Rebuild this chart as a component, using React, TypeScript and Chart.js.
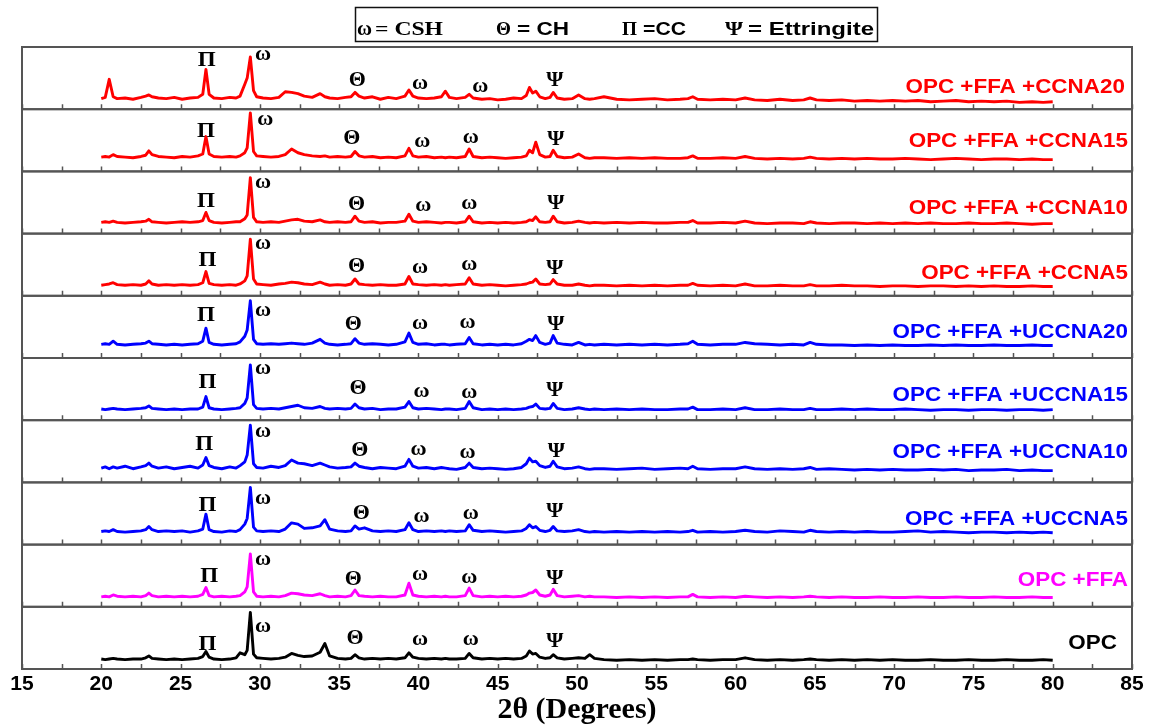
import React, { useEffect, useRef } from "react";
import { Chart, registerables } from "chart.js";

Chart.register(...registerables);

const twoTheta = [
  20.0, 20.25, 20.5, 20.75, 21.0, 21.5, 22.0, 22.5, 22.8, 23.0,
  23.2, 23.6, 24.1, 24.6, 25.1, 25.6, 26.1, 26.4, 26.6, 26.8,
  27.1, 27.6, 28.1, 28.5, 28.75, 29.05, 29.2, 29.4, 29.6, 29.8,
  30.2, 30.7, 31.2, 31.6, 32.0, 32.4, 32.8, 33.3, 33.8, 34.1,
  34.4, 34.9, 35.4, 35.75, 36.0, 36.25, 36.6, 37.1, 37.6, 38.1,
  38.6, 39.15, 39.4, 39.65, 40.0, 40.5, 41.0, 41.45, 41.7, 41.95,
  42.4, 42.95, 43.2, 43.45, 44.0, 44.5, 45.0, 45.5, 46.0, 46.5,
  46.8, 47.0, 47.2, 47.4, 47.65, 48.0, 48.3, 48.5, 48.75, 49.2,
  49.7, 50.1, 50.5, 50.8, 51.1,
  51.7, 52.5, 53.3, 54.1, 54.9, 55.7, 56.5, 57.0, 57.3, 57.6,
  58.4, 59.2, 60.0, 60.6, 61.2, 62.0, 62.8, 63.6, 64.3, 64.7,
  65.1, 65.9, 66.7, 67.5, 68.3, 69.1, 69.9, 70.7, 71.5, 72.3,
  73.1, 73.9, 74.7, 75.5, 76.3, 77.1, 77.9, 78.7, 79.4, 80.0,
];

// Relative intensities (0–100 within each stacked panel)
const ccna20 = [
  17, 19, 48, 20, 17, 18, 16, 19, 21, 23,
  20, 18, 17, 19, 16, 18, 19, 24, 64, 24,
  18, 17, 19, 18, 21, 40, 50, 84, 30, 20,
  18, 17, 19, 28, 27, 25, 21, 19, 25, 20,
  18, 17, 19, 20, 27, 21, 18, 20, 16, 19,
  17, 21, 31, 21, 18, 17, 18, 20, 29, 19,
  17, 19, 24, 18, 16, 17, 15, 16, 18, 17,
  22, 35, 26, 29, 20, 17, 19, 27, 18, 16,
  17, 23, 17, 16, 17,
  20, 16, 15, 16, 17, 15, 16, 17, 20, 16,
  15, 16, 15, 18, 15, 14, 16, 14, 15, 18,
  15, 14, 15, 13, 14, 13, 14, 13, 14, 12,
  13, 14, 12, 13, 12, 13, 11, 12, 11, 12,
];
const ccna15 = [
  23, 24, 23, 27, 24, 23, 22, 24, 26, 33,
  27, 24, 23, 22, 24, 23, 25, 28, 56, 28,
  24, 23, 24, 23, 25, 30, 38, 94, 32, 25,
  24, 23, 24, 27, 36, 30, 27, 25, 24, 25,
  23, 24, 23, 24, 32, 25, 23, 24, 22, 23,
  22, 25, 37, 25, 23, 24, 22, 23, 22, 23,
  22, 24, 36, 24, 22, 23, 22, 21, 22, 23,
  25, 34, 30, 47, 27, 23, 24, 34, 24, 22,
  23, 28, 22, 21, 22,
  22, 21, 22, 21, 22, 21, 21, 22, 25, 21,
  21, 22, 21, 24, 21, 20, 21, 20, 21, 23,
  21, 20, 21, 20, 21, 20, 20, 21, 20, 19,
  20, 21, 20, 19, 20, 20, 19, 20, 19, 19,
];
const ccna10 = [
  18, 19, 18, 20, 18, 17, 18, 19, 20, 23,
  19, 18, 17, 18, 19, 18, 19, 21, 34, 21,
  18, 17, 18, 19, 19, 24, 30, 90, 26, 19,
  18, 19, 18, 20, 22, 23, 20, 19, 22, 19,
  18, 19, 18, 19, 28, 20, 18, 19, 17, 18,
  18, 20, 31, 20, 18, 19, 18, 17, 18, 18,
  17, 19, 28, 19, 17, 18, 17, 18, 17, 18,
  19, 22, 21, 27, 19, 18, 19, 28, 19, 17,
  18, 20, 18, 17, 18,
  17, 18, 17, 18, 17, 17, 18, 18, 21, 17,
  17, 18, 17, 20, 17, 16, 17, 17, 16, 19,
  17, 16, 17, 17, 16, 17, 16, 17, 16, 17,
  16, 16, 17, 16, 16, 17, 16, 15, 16, 16,
];
const ccna5 = [
  17, 18, 19, 21, 18, 17, 18, 17, 19, 24,
  19, 17, 18, 17, 18, 17, 18, 21, 39, 20,
  18, 17, 18, 17, 19, 24, 32, 91, 27, 19,
  18, 17, 19, 20, 22, 21, 19, 18, 22, 19,
  17, 18, 17, 19, 27, 19, 18, 17, 18, 17,
  17, 19, 31, 19, 18, 17, 18, 17, 18, 17,
  18, 19, 29, 19, 17, 18, 17, 16, 17, 18,
  19, 21, 22, 27, 19, 18, 19, 26, 19, 17,
  17, 19, 17, 16, 17,
  17, 16, 17, 16, 17, 16, 17, 17, 20, 17,
  16, 17, 16, 19, 16, 16, 17, 16, 16, 18,
  16, 16, 17, 16, 16, 15, 16, 16, 15, 16,
  16, 15, 16, 15, 16, 15, 15, 16, 15, 15,
];
const uccna20 = [
  22, 23, 22, 27, 22, 21, 22, 23, 24, 27,
  23, 22, 21, 22, 21, 22, 23, 27, 48, 25,
  22, 21, 22, 23, 26, 35, 45, 92, 30, 23,
  22, 23, 22, 23, 24, 23, 22, 24, 30, 24,
  22, 21, 22, 23, 31, 24, 22, 23, 22, 21,
  22, 26, 40, 25, 22, 23, 21, 22, 22, 21,
  22, 23, 33, 23, 21, 22, 21, 22, 21, 23,
  27, 30, 28, 36, 25, 22, 24, 36, 24, 22,
  21, 25, 21, 22, 21,
  22, 21, 22, 21, 22, 21, 22, 23, 27, 22,
  21, 22, 22, 25, 23, 22, 21, 22, 21, 25,
  22, 21, 21, 20, 21, 20, 21, 20, 20, 21,
  20, 21, 20, 20, 21, 20, 20, 21, 20, 20,
];
const uccna15 = [
  18, 17, 18, 19, 18, 17, 18, 19, 20, 23,
  19, 18, 17, 18, 17, 18, 18, 21, 38, 20,
  18, 17, 18, 19, 20, 27, 36, 89, 25, 19,
  18, 19, 18, 20, 22, 24, 20, 19, 22, 19,
  18, 19, 18, 19, 26, 20, 18, 19, 17, 18,
  18, 21, 30, 20, 18, 19, 18, 17, 18, 18,
  17, 19, 30, 20, 17, 18, 17, 18, 17, 18,
  19, 21, 22, 26, 19, 18, 19, 27, 19, 17,
  18, 20, 18, 17, 18,
  17, 18, 17, 18, 17, 17, 18, 18, 21, 17,
  17, 18, 17, 20, 17, 17, 18, 17, 17, 19,
  17, 17, 18, 17, 18, 17, 17, 18, 17, 16,
  17, 17, 16, 17, 17, 16, 17, 17, 16, 17,
];
const uccna10 = [
  23, 25, 22, 25, 23, 26, 22, 25, 27, 31,
  26, 23, 25, 22, 24, 26, 23, 28, 40, 27,
  24, 22, 25, 23, 27, 33, 44, 92, 30, 24,
  23, 26, 24, 27, 36, 31, 30, 27, 31, 28,
  25, 23, 24, 25, 31, 26, 24, 22, 24, 23,
  22, 26, 37, 26, 23, 24, 22, 24, 23, 22,
  21, 24, 31, 24, 22, 23, 22, 21, 22, 24,
  30, 39, 33, 34, 27, 24, 26, 34, 25, 22,
  23, 25, 22, 21, 22,
  22, 21, 22, 23, 21, 22, 23, 22, 26, 22,
  21, 22, 22, 25, 22, 21, 22, 21, 22, 24,
  21, 22, 21, 20, 21, 20, 21, 20, 20, 21,
  20, 21, 19, 20, 20, 21, 19, 20, 19, 19,
];
const uccna5 = [
  21, 22, 21, 24, 21, 20, 21, 22, 24, 29,
  24, 21, 22, 21, 22, 20, 22, 25, 49, 24,
  21, 20, 22, 21, 24, 33, 42, 92, 28, 22,
  21, 22, 21, 25, 35, 33, 26, 27, 30, 40,
  25, 22, 21, 22, 30, 25, 27, 22, 21, 22,
  21, 24, 35, 24, 21, 22, 21, 22, 21, 22,
  21, 22, 32, 23, 21, 22, 21, 20, 21, 22,
  26, 32, 27, 29, 23, 21, 23, 29, 22, 21,
  22, 24, 21, 20, 21,
  20, 21, 20, 21, 20, 21, 20, 21, 23, 20,
  21, 20, 21, 23, 21, 20, 22, 21, 20, 23,
  21, 20, 21, 20, 21, 20, 20, 21, 22, 20,
  21, 20, 19, 20, 20, 19, 20, 19, 20, 19,
];
const opcFfa = [
  16, 17, 16, 19, 17, 16, 17, 16, 18, 22,
  18, 16, 17, 16, 17, 16, 17, 20, 31, 18,
  16, 17, 16, 17, 18, 24, 32, 85, 24, 17,
  16, 17, 16, 18, 22, 21, 19, 18, 21, 18,
  16, 17, 16, 18, 27, 18, 17, 16, 17, 16,
  16, 19, 38, 19, 17, 16, 17, 16, 17, 16,
  16, 18, 30, 18, 16, 17, 16, 17, 16, 17,
  19, 22, 23, 27, 19, 17, 19, 28, 18, 16,
  17, 18, 16, 17, 16,
  16, 15, 16, 15, 16, 15, 16, 16, 20, 16,
  15, 16, 15, 17, 16, 15, 16, 15, 16, 17,
  16, 15, 16, 15, 15, 16, 15, 15, 16, 15,
  15, 16, 15, 15, 16, 15, 15, 16, 15, 15,
];
const opc = [
  16, 15, 16, 17, 16, 15, 16, 16, 18, 21,
  17, 16, 15, 16, 15, 16, 17, 20, 28, 19,
  16, 15, 16, 18, 26, 23, 30, 91, 24, 18,
  17, 16, 17, 19, 25, 22, 20, 21, 27, 41,
  21, 17, 16, 17, 23, 18, 16, 17, 16, 17,
  16, 18, 26, 19, 17, 16, 17, 16, 17, 16,
  16, 17, 25, 18, 16, 17, 16, 17, 16, 17,
  21, 29, 24, 25, 19, 17, 18, 23, 18, 16,
  17, 18, 17, 23, 17,
  15, 14, 15, 14, 15, 14, 15, 15, 16, 15,
  14, 15, 15, 18, 15, 14, 15, 14, 15, 16,
  15, 14, 15, 14, 15, 14, 15, 14, 14, 15,
  14, 14, 15, 14, 14, 15, 14, 14, 15, 14,
];

const sampleNames = [
  "OPC +FFA +CCNA20", "OPC +FFA +CCNA15", "OPC +FFA +CCNA10", "OPC +FFA +CCNA5",
  "OPC +FFA +UCCNA20", "OPC +FFA +UCCNA15", "OPC +FFA +UCCNA10", "OPC +FFA +UCCNA5",
  "OPC +FFA", "OPC",
];
const sampleSeries = [ccna20, ccna15, ccna10, ccna5, uccna20, uccna15, uccna10, uccna5, opcFfa, opc];
const sampleColors = [
  "#ff0000", "#ff0000", "#ff0000", "#ff0000",
  "#0000ff", "#0000ff", "#0000ff", "#0000ff",
  "#ff00ff", "#000000",
];

const xTickValues = [15, 20, 25, 30, 35, 40, 45, 50, 55, 60, 65, 70, 75, 80, 85];
const minorTickValues = [
  15, 17.5, 20, 22.5, 25, 27.5, 30, 32.5, 35, 37.5, 40, 42.5, 45, 47.5, 50,
  52.5, 55, 57.5, 60, 62.5, 65, 67.5, 70, 72.5, 75, 77.5, 80, 82.5, 85,
];

// Phase marks per panel: [symbol, 2θ, height in panel units]
const peakMarks: [string, number, number][][] = [
  [["Π", 26.65, 80], ["ω", 30.2, 87], ["Θ", 36.15, 49], ["ω", 40.1, 40], ["ω", 43.9, 36], ["Ψ", 48.6, 48]],
  [["Π", 26.6, 67], ["ω", 30.35, 83], ["Θ", 35.8, 55], ["ω", 40.25, 47], ["ω", 43.3, 54], ["Ψ", 48.67, 54]],
  [["Π", 26.6, 54], ["ω", 30.2, 82], ["Θ", 36.1, 49], ["ω", 40.3, 45], ["ω", 43.2, 47], ["Ψ", 48.67, 51]],
  [["Π", 26.7, 59], ["ω", 30.2, 83], ["Θ", 36.1, 50], ["ω", 40.1, 45], ["ω", 43.2, 49], ["Ψ", 48.6, 47]],
  [["Π", 26.6, 70], ["ω", 30.2, 75], ["Θ", 35.9, 56], ["ω", 40.1, 54], ["ω", 43.1, 56], ["Ψ", 48.67, 56]],
  [["Π", 26.7, 63], ["ω", 30.2, 82], ["Θ", 36.2, 54], ["ω", 40.2, 46], ["ω", 43.2, 43], ["Ψ", 48.6, 50]],
  [["Π", 26.5, 63], ["ω", 30.2, 81], ["Θ", 36.3, 54], ["ω", 40.0, 52], ["ω", 43.1, 48], ["Ψ", 48.7, 52]],
  [["Π", 26.7, 66], ["ω", 30.2, 74], ["Θ", 36.4, 53], ["ω", 40.2, 45], ["ω", 43.3, 50], ["Ψ", 48.6, 55]],
  [["Π", 26.8, 51], ["ω", 30.2, 75], ["Θ", 35.9, 47], ["ω", 40.1, 51], ["ω", 43.2, 47], ["Ψ", 48.6, 48]],
  [["Π", 26.7, 41], ["ω", 30.2, 68], ["Θ", 36.0, 52], ["ω", 40.1, 47], ["ω", 43.3, 47], ["Ψ", 48.6, 46]],
];

// layout of the sample labels (right edge in 2θ units, centre in panel units)
const labelRightX = [84.55, 84.75, 84.75, 84.75, 84.75, 84.75, 84.75, 84.75, 84.75, 84.05];
const labelCenterY = [37, 51, 42, 39, 43, 42, 51, 43, 45, 43];

const SANS = '"Liberation Sans", Arial, Helvetica, sans-serif';
const SERIF = '"Liberation Serif", "Times New Roman", Times, serif';
const FRAME = "#555555";

function drawCentered(ctx: CanvasRenderingContext2D, text: string, x: number, yc: number, sx: number, align: CanvasTextAlign) {
  const m = ctx.measureText(text);
  const a = m.actualBoundingBoxAscent;
  const d = m.actualBoundingBoxDescent;
  ctx.save();
  ctx.translate(x, yc + (a - d) / 2);
  ctx.scale(sx, 1);
  ctx.textAlign = align;
  ctx.textBaseline = "alphabetic";
  ctx.fillText(text, 0, 0);
  ctx.restore();
}

function drawFit(ctx: CanvasRenderingContext2D, text: string, x: number, baseline: number, width: number) {
  const m = ctx.measureText(text);
  ctx.save();
  ctx.translate(x, baseline);
  ctx.scale(width / m.width, 1);
  ctx.textAlign = "left";
  ctx.textBaseline = "alphabetic";
  ctx.fillText(text, 0, 0);
  ctx.restore();
}

const panelPlugin = {
  id: "xrdPanels",
  beforeDatasetsDraw(chart: any) {
    const { ctx, chartArea } = chart;
    const xs = chart.scales.x;
    ctx.save();
    for (let i = 0; i < sampleNames.length; i++) {
      const ys = chart.scales["y" + i];
      ctx.strokeStyle = FRAME;
      ctx.lineWidth = 2;
      ctx.strokeRect(chartArea.left, ys.top, chartArea.right - chartArea.left, ys.bottom - ys.top);
      ctx.lineWidth = 1.5;
      ctx.beginPath();
      for (const v of minorTickValues) {
        const px = Math.round(xs.getPixelForValue(v)) + 0.5;
        ctx.moveTo(px, ys.bottom);
        ctx.lineTo(px, ys.bottom - 5);
      }
      ctx.stroke();
    }
    ctx.restore();
  },
  afterDatasetsDraw(chart: any) {
    const { ctx } = chart;
    const xs = chart.scales.x;
    ctx.save();
    for (let i = 0; i < sampleNames.length; i++) {
      const ys = chart.scales["y" + i];
      ctx.fillStyle = "#000";
      for (const [sym, xv, yv] of peakMarks[i]) {
        ctx.font = `bold ${sym === "Π" ? 21 : 20}px ${SERIF}`;
        drawCentered(ctx, sym, xs.getPixelForValue(xv), ys.getPixelForValue(yv), 1.1, "center");
      }
      ctx.fillStyle = sampleColors[i];
      ctx.font = `bold 19.5px ${SANS}`;
      drawCentered(ctx, sampleNames[i], xs.getPixelForValue(labelRightX[i]), ys.getPixelForValue(labelCenterY[i]), 1.15, "right");
    }
    ctx.restore();
  },
  afterDraw(chart: any) {
    const { ctx } = chart;
    ctx.save();
    ctx.strokeStyle = "#111";
    ctx.lineWidth = 1.5;
    ctx.strokeRect(355.5, 7.5, 522, 34);
    ctx.fillStyle = "#000";
    const base = 35;
    ctx.font = `bold 20px ${SERIF}`;
    drawFit(ctx, "ω", 357, base, 15);
    ctx.font = `bold 19px ${SERIF}`;
    drawFit(ctx, "= CSH", 375, base, 68);
    drawFit(ctx, "Θ", 496, base, 15);
    drawFit(ctx, "Π", 622, base, 15);
    drawFit(ctx, "Ψ", 725, base, 18);
    ctx.font = `bold 18px ${SANS}`;
    drawFit(ctx, "= CH", 517, base, 52);
    drawFit(ctx, "=CC", 643, base, 43);
    drawFit(ctx, "= Ettringite", 748, base, 126);
    ctx.restore();
  },
};

export default function App() {
  const canvasRef = useRef<HTMLCanvasElement>(null);

  useEffect(() => {
    const canvas = canvasRef.current;
    if (!canvas) return;

    const scales: any = {
      x: {
        type: "linear",
        position: "bottom",
        min: 15,
        max: 85,
        afterBuildTicks: (s: any) => {
          s.ticks = xTickValues.map((v) => ({ value: v }));
        },
        afterFit: (s: any) => {
          s.height = 59;
        },
        grid: { display: false, drawTicks: false },
        border: { display: false },
        ticks: {
          color: "#000",
          padding: 3,
          autoSkip: false,
          maxRotation: 0,
          font: { family: SANS, size: 21, weight: "bold" },
        },
        title: {
          display: true,
          text: "2θ (Degrees)",
          color: "#000",
          padding: { top: 0, bottom: 0 },
          font: { family: SERIF, size: 30, weight: "bold" },
        },
      },
    };
    // last-defined stacked axis is placed on top, so define bottom panel first
    for (let i = sampleNames.length - 1; i >= 0; i--) {
      scales["y" + i] = {
        type: "linear",
        position: "left",
        stack: "panels",
        stackWeight: 1,
        min: 0,
        max: 100,
        display: false,
        offset: false,
        grid: { display: false, drawTicks: false },
        ticks: { display: false },
        afterFit: (s: any) => {
          s.width = 0;
        },
      };
    }

    const chart = new Chart(canvas, {
      type: "line",
      data: {
        datasets: sampleSeries.map((vals, i) => ({
          label: sampleNames[i],
          data: twoTheta.map((x, j) => ({ x, y: vals[j] })),
          yAxisID: "y" + i,
          borderColor: sampleColors[i],
          backgroundColor: sampleColors[i],
          borderWidth: 2.9,
          borderJoinStyle: "round",
          pointRadius: 0,
          tension: 0,
          fill: false,
        })),
      },
      options: {
        responsive: false,
        animation: false,
        devicePixelRatio: 1,
        layout: { padding: { left: 22, right: 23, top: 47, bottom: 0 } },
        plugins: {
          legend: { display: false },
          tooltip: { enabled: false },
          title: { display: false },
        },
        scales,
      },
      plugins: [panelPlugin],
    } as any);

    return () => chart.destroy();
  }, []);

  return (
    <div style={{ position: "absolute", left: 0, top: 0, width: 1155, height: 728, background: "#fff" }}>
      <canvas ref={canvasRef} width={1155} height={728} style={{ display: "block", width: 1155, height: 728 }} />
    </div>
  );
}
